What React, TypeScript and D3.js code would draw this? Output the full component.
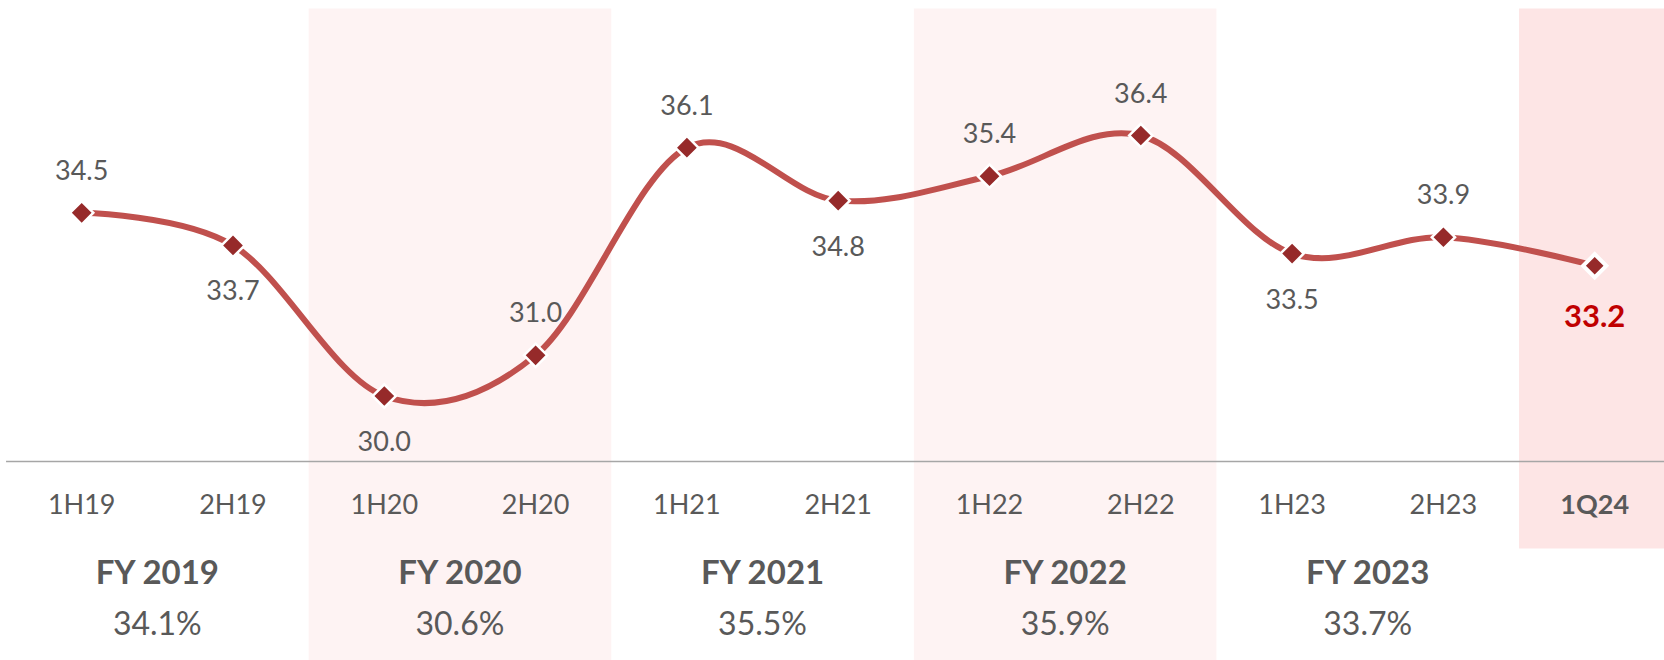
import React, { useEffect, useRef } from 'react';
import * as d3 from 'd3';

const categories = ['1H19', '2H19', '1H20', '2H20', '1H21', '2H21', '1H22', '2H22', '1H23', '2H23', '1Q24'];
const values = [34.5, 33.7, 30.0, 31.0, 36.1, 34.8, 35.4, 36.4, 33.5, 33.9, 33.2];
const labelSide = ['above', 'below', 'below', 'above', 'above', 'below', 'above', 'above', 'below', 'above', 'below'];

const fyNames = ['FY 2019', 'FY 2020', 'FY 2021', 'FY 2022', 'FY 2023'];
const fyValues = ['34.1%', '30.6%', '35.5%', '35.9%', '33.7%'];
const fyShaded = [false, true, false, true, false];

const FONT = 'Lato, "Open Sans", sans-serif';
const GREY = '#595959';

function App() {
  const ref = useRef<SVGSVGElement>(null);

  useEffect(() => {
    const svg = d3.select(ref.current);
    const width = 1664;
    const height = 660;
    svg.selectAll('*').remove();

    const x = d3.scalePoint<string>().domain(categories).range([81.7, 1594.7]);
    const step = x.step();
    const y = d3.scaleLinear().domain([30, 36.4]).range([396, 135.5]);
    const baseY = 461.5;

    // shaded fiscal-year bands
    fyNames.forEach((fy, i) => {
      if (!fyShaded[i]) return;
      const x0 = x(categories[i * 2])! - step / 2;
      const x1 = x(categories[i * 2 + 1])! + step / 2;
      svg.append('rect')
        .attr('x', x0).attr('y', 8.5)
        .attr('width', x1 - x0).attr('height', height - 8.5)
        .attr('fill', '#fef3f3');
    });
    const last = categories[categories.length - 1];
    svg.append('rect')
      .attr('x', x(last)! - step / 2).attr('y', 8.5)
      .attr('width', step).attr('height', 548.5 - 8.5)
      .attr('fill', '#fde5e5');

    // baseline
    svg.append('line')
      .attr('x1', x(categories[0])! - step / 2).attr('x2', width)
      .attr('y1', baseY).attr('y2', baseY)
      .attr('stroke', '#a6a6a6').attr('stroke-width', 1.5);

    // smoothed line
    const line = d3.line<number>()
      .x((d, i) => x(categories[i])!)
      .y(d => y(d))
      .curve(d3.curveCardinal.tension(0));
    svg.append('path')
      .datum(values)
      .attr('fill', 'none')
      .attr('stroke', '#c0504d')
      .attr('stroke-width', 6)
      .attr('stroke-linecap', 'round')
      .attr('d', line);

    // markers
    const diamond = d3.symbol().type(d3.symbolSquare).size(270);
    values.forEach((v, i) => {
      const isLast = i === values.length - 1;
      svg.append('path')
        .attr('d', diamond())
        .attr('transform', `translate(${x(categories[i])},${y(v)}) rotate(45)`)
        .attr('fill', '#962a2a')
        .attr('stroke', '#ffffff')
        .attr('stroke-width', isLast ? 4 : 2.5);
    });

    // data labels
    values.forEach((v, i) => {
      const isLast = i === values.length - 1;
      const dy = labelSide[i] === 'above' ? -33 : isLast ? 61 : 55;
      svg.append('text')
        .attr('x', x(categories[i])!)
        .attr('y', y(v) + dy)
        .attr('text-anchor', 'middle')
        .attr('font-family', FONT)
        .attr('font-size', isLast ? 31 : 27)
        .attr('font-weight', isLast ? 700 : 400)
        .attr('fill', isLast ? '#c00000' : GREY)
        .text(v.toFixed(1));
    });

    // category labels
    categories.forEach((c, i) => {
      const isLast = i === categories.length - 1;
      svg.append('text')
        .attr('x', x(c)!)
        .attr('y', 513.5)
        .attr('text-anchor', 'middle')
        .attr('font-family', FONT)
        .attr('font-size', 27)
        .attr('font-weight', isLast ? 700 : 400)
        .attr('fill', GREY)
        .text(c);
    });

    // fiscal year titles and values
    fyNames.forEach((fy, i) => {
      const cx = (x(categories[i * 2])! + x(categories[i * 2 + 1])!) / 2;
      svg.append('text')
        .attr('x', cx).attr('y', 584)
        .attr('text-anchor', 'middle')
        .attr('font-family', FONT)
        .attr('font-size', 33)
        .attr('font-weight', 700)
        .attr('fill', GREY)
        .text(fy);
      svg.append('text')
        .attr('x', cx).attr('y', 635)
        .attr('text-anchor', 'middle')
        .attr('font-family', FONT)
        .attr('font-size', 32)
        .attr('fill', GREY)
        .text(fyValues[i]);
    });
  });

  return (
    <svg
      ref={ref}
      width={1664}
      height={660}
      style={{ position: 'absolute', left: 0, top: 0, background: '#ffffff' }}
    />
  );
}

export default App;
